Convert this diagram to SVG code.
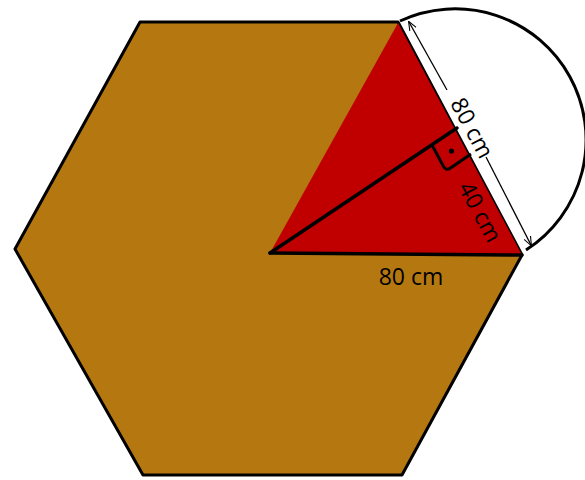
<svg xmlns="http://www.w3.org/2000/svg" width="585" height="480" viewBox="0 0 585 480">
<defs>
<style>
.lbl{font-family:"Open Sans","DejaVu Sans",sans-serif;font-size:23px;fill:#000}
.thick{stroke:#000;stroke-width:3.5;fill:none;stroke-linecap:round}
.dim{stroke:#000;stroke-width:1.3;fill:none}
</style>
<marker id="arr" viewBox="0 0 10 10" refX="9" refY="5" markerWidth="7" markerHeight="7" orient="auto-start-reverse">
<path d="M0,1 L10,5 L0,9" fill="none" stroke="#000" stroke-width="1.2"/>
</marker>
</defs>
<rect width="585" height="480" fill="#fff"/>
<g id="hexagon">
<polygon points="140,22 398,22 522,255 402,475 143,475 15,249" fill="#b57810" stroke="#000" stroke-width="3" stroke-linejoin="round"/>
</g>
<g id="semicircle">
<path d="M400,21 A131,131 0 0 1 526,250 Z" fill="#fff"/>
<path d="M400,21 A131,131 0 0 1 526,250" fill="none" stroke="#000" stroke-width="3"/>
</g>
<g id="triangle">
<polygon points="270,253 398,23 522,255" fill="#c00000"/>
</g>
<g id="connectors">
<line class="thick" x1="270" y1="253" x2="522" y2="255"/>
<line class="thick" x1="270" y1="253" x2="457" y2="128"/>
<path d="M471,154 L450.2,168.2 Q446,171 443.6,166.6 L432,145" fill="none" stroke="#000" stroke-width="3" stroke-linejoin="round"/>
<circle cx="451.5" cy="151" r="2.6" fill="#000"/>
<line class="dim" x1="447" y1="90" x2="409" y2="22" marker-end="url(#arr)"/>
<line class="dim" x1="486" y1="157" x2="531" y2="245" marker-end="url(#arr)"/>
</g>
<g id="labels">
<text class="lbl" text-anchor="middle" transform="translate(472,128) rotate(61.8)" y="8">80 cm</text>
<text class="lbl" text-anchor="middle" transform="translate(480,212) rotate(61.8)" y="8">40 cm</text>
<text class="lbl" text-anchor="middle" x="411" y="285">80 cm</text>
</g>
</svg>
